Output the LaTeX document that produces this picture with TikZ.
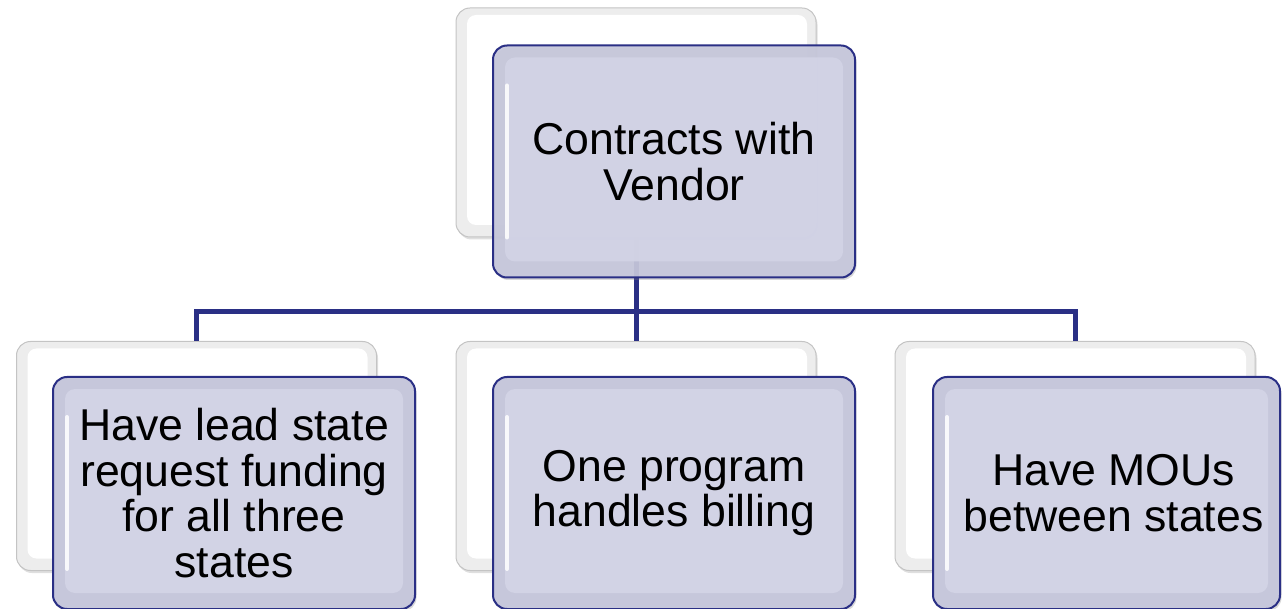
\documentclass[tikz,border=0pt]{standalone}
\usepackage{fontspec}
\setmainfont{Liberation Sans}
\usetikzlibrary{calc,shadows}
\definecolor{navy}{HTML}{2A2F85}
\definecolor{lav}{HTML}{C6C7DB}
\definecolor{lavlight}{HTML}{D2D3E5}
\definecolor{backedge}{HTML}{C4C4C4}
\begin{document}
\begin{tikzpicture}[x=1pt,y=-1pt,
  backbox/.style={rounded corners=14pt, draw=backedge, line width=1pt, fill=gray!14,
    inner sep=0pt, minimum width=360pt, minimum height=229pt,
    drop shadow={shadow xshift=1.5pt, shadow yshift=-2.5pt, opacity=0.25},
    path picture={
      \fill[white, rounded corners=9pt]
        ($(path picture bounding box.south west)+(11pt,12pt)$) rectangle
        ($(path picture bounding box.north east)+(-9pt,-7pt)$);
    }},
  frontbox/.style={rounded corners=14pt, draw=navy, line width=2pt, fill=lav,
    inner sep=0pt, align=center, minimum width=362pt, minimum height=232pt,
    font=\fontsize{44.6}{45.5}\selectfont,
    drop shadow={shadow xshift=1.5pt, shadow yshift=-2.5pt, opacity=0.3},
    path picture={
      \fill[lavlight, rounded corners=10pt]
        ($(path picture bounding box.south west)+(12pt,16pt)$) rectangle
        ($(path picture bounding box.north east)+(-12pt,-12pt)$);
      \draw[white, line width=4pt, line cap=round, opacity=0.85]
        ($(path picture bounding box.north west)+(14pt,-40pt)$) --
        ($(path picture bounding box.south west)+(14pt,40pt)$);
    }},
  conn/.style={draw=navy, line width=5pt}]
\useasboundingbox (0,0) rectangle (1282,609);

% back boxes
\node[backbox] (tb) at (636,122.5) {};
\node[backbox] (lb) at (196.5,456) {};
\node[backbox] (mb) at (636,456) {};
\node[backbox] (rb) at (1075,456) {};

% connectors
\coordinate (hub) at (636,312);
\draw[conn] (tb.south) -- (hub);
\draw[conn] (lb.north) |- (hub);
\draw[conn] (rb.north) |- (hub);
\draw[conn] (hub) -- (mb.north);

% front boxes
\node[frontbox, fill opacity=0.93, text opacity=1] (tf) at (674,161.5) {Contracts with\\Vendor};
\node[frontbox] (lf) at (234,493) {Have lead state\\request funding\\for all three\\states};
\node[frontbox] (mf) at (674,493) {One program\\handles billing};
\node[frontbox, minimum width=347pt] (rf) at (1106.5,493) {\hspace*{14pt}Have MOUs\\\hspace*{14pt}between states};
\end{tikzpicture}
\end{document}
